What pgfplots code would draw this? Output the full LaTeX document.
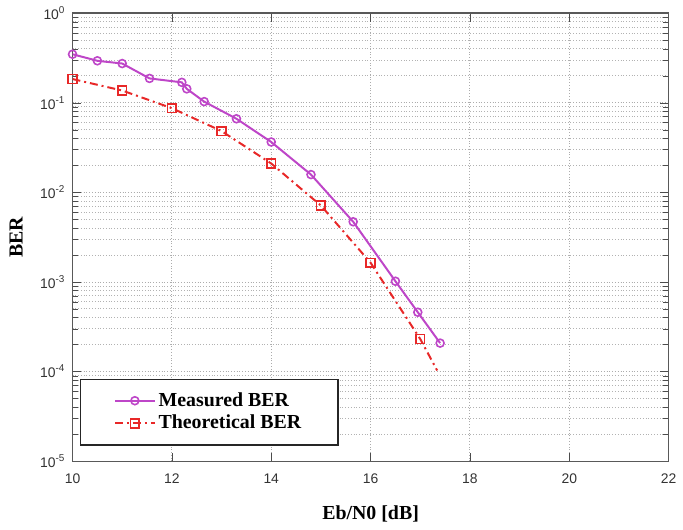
\documentclass[border=0pt]{standalone}
\usepackage{pgfplots}
\pgfplotsset{compat=1.18}
\usepackage{fontspec}
\setmainfont{Liberation Serif}
\newfontfamily\ticksf{Liberation Sans}
\definecolor{measured}{RGB}{190,70,200}
\definecolor{theory}{RGB}{232,40,40}

\begin{document}
\begin{tikzpicture}
\begin{axis}[
  scale only axis, width=300pt, height=225.5pt,
  at={(0,0)}, anchor=south west,
  ymode=log,
  xmin=10, xmax=22, ymin=1e-5, ymax=1,
  xtick={10,12,...,22},
  ytick={1e-5,1e-4,1e-3,1e-2,1e-1,1},
  yticklabels={10\textsuperscript{-5},10\textsuperscript{-4},10\textsuperscript{-3},10\textsuperscript{-2},10\textsuperscript{-1},10\textsuperscript{0}},
  /pgf/number format/assume math mode=true,
  tick label style={font=\ticksf\fontsize{7}{8}\selectfont, black!80},
  xticklabel style={yshift=-3pt},
  grid=both,
  major grid style={densely dotted, gray!65, line width=0.5pt},
  minor grid style={densely dotted, gray!60, line width=0.5pt},
  minor x tick num=0,
  tick style={black!70},
  axis line style={black!65, line width=0.7pt},
  xlabel={\bfseries Eb/N0 [dB]},
  ylabel={\bfseries BER},
  label style={font=\fontsize{10}{12}\selectfont},
  xlabel style={yshift=-4pt},
  ylabel style={yshift=2pt},
  legend cell align=left,
  legend style={at={(0.0117,0.035)}, anchor=south west,
    draw=black!85, line width=0.8pt, inner xsep=17pt, inner ysep=5pt,
    font=\bfseries\fontsize{10}{12}\selectfont,
    nodes={inner ysep=1.5pt, inner xsep=1.5pt}},
  legend image code/.code={
    \draw[#1, mark indices={2}] plot coordinates {(0cm,0cm) (0.35cm,0cm) (0.7cm,0cm)};},
]
\addplot[measured, line width=1pt, mark=o, mark size=2pt, mark options={solid, line width=0.8pt}]
  coordinates {
  (10,0.348) (10.5,0.294) (11,0.274) (11.55,0.187) (12.2,0.169) (12.3,0.143)
  (12.65,0.103) (13.3,0.0663) (14,0.0365) (14.8,0.0158) (15.65,0.0047)
  (16.5,1.02e-3) (16.95,4.6e-4) (17.4,2.08e-4)};
\addlegendentry{Measured BER}
\addplot[theory, line width=1pt, dash pattern=on 4pt off 2pt on 1pt off 2pt,
  mark=square, mark size=2.2pt,
  mark options={solid, line width=0.8pt}, mark indices={1,...,8}]
  coordinates {
  (10,0.184) (11,0.137) (12,0.087) (13,0.0483) (14,0.021) (15,0.00713)
  (16,1.64e-3) (17,2.31e-4) (17.34,1.03e-4)};
\addlegendentry{Theoretical BER\hspace{12pt}}
\end{axis}
\path[use as bounding box] (-36.5pt,-34.5pt) rectangle (305pt,231.5pt);
\end{tikzpicture}
\end{document}
